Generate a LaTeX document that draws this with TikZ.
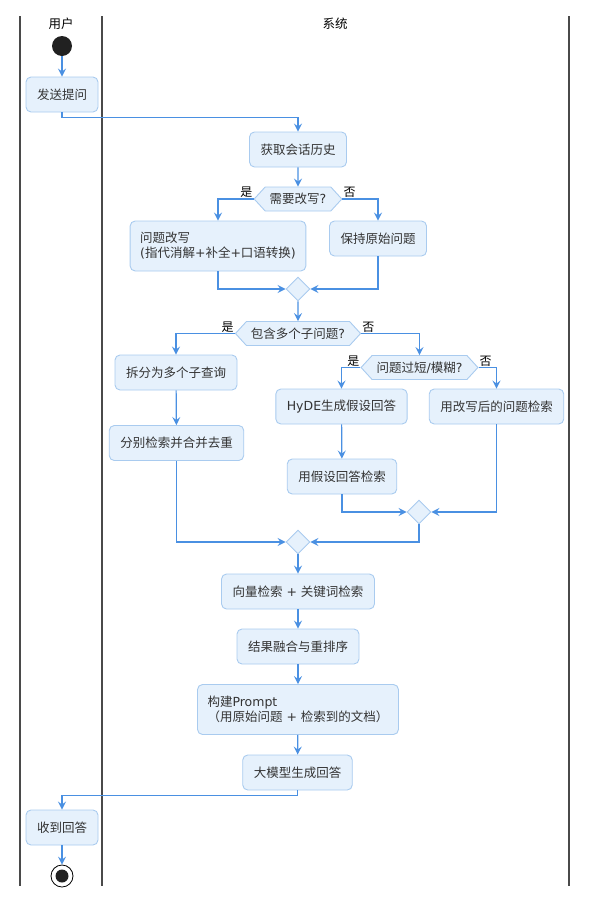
\documentclass[tikz,border=0pt]{standalone}
\usepackage{fontspec}
\setmainfont{Noto Sans CJK SC}
\newfontfamily\lat{DejaVu Sans}
\usetikzlibrary{arrows.meta, positioning, shapes.geometric, shapes.symbols}
\definecolor{boxfill}{HTML}{E6F1FC}
\definecolor{boxline}{HTML}{A9CBEF}
\definecolor{flowcol}{HTML}{4A90E2}
\definecolor{txtcol}{HTML}{333333}
\definecolor{lanecol}{HTML}{4A4A4A}

\begin{document}
\begin{tikzpicture}[
			x=1pt, y=-1pt,
			every node/.style={font=\fontsize{12.5}{15}\selectfont, text=txtcol},
			act/.style={draw=boxline, fill=boxfill, rounded corners=5pt, line width=0.9pt, inner xsep=11pt, minimum height=35pt},
			actl/.style={act, align=left, inner xsep=10pt, minimum height=50pt},
			choice/.style={signal, signal to=east and west, signal pointer angle=95, draw=boxline, fill=boxfill, line width=0.9pt, inner xsep=4.5pt, inner ysep=0pt, minimum height=24pt},
			merge/.style={diamond, draw=boxline, fill=boxfill, line width=0.9pt, minimum width=24pt, minimum height=24pt, inner sep=0pt},
			flow/.style={draw=flowcol, line width=1.2pt, -{Stealth[length=8pt,width=8pt,inset=3pt]}},
			yes/.style={text=black, font=\fontsize{12}{14}\selectfont, inner sep=1pt},
			lane/.style={draw=lanecol, line width=1.6pt}
			]
			\useasboundingbox (0,0) rectangle (597,908);
			
			% swimlanes
			\draw[lane] (20,16) -- (20,886);
			\draw[lane] (102,16) -- (102,886);
			\draw[lane] (569,16) -- (569,886);
			\node[text=black, font=\fontsize{12.5}{14}\selectfont] (L1) at (61,24) {用户};
			\node[text=black, font=\fontsize{12.5}{14}\selectfont] (L2) at (335,24) {系统};
			
			% user lane
			\node[circle, fill=black!87, minimum size=20pt, inner sep=0pt] (S) at (62,46) {};
			\node[act] (Send) at (62,94.5) {发送提问};
			
			% rewrite step
			\node[act] (Hist) at (298,149.5) {获取会话历史};
			\node[choice] (Q1) at (298,199) {需要改写{\lat ?}};
			\node[actl] (Rw) at (218,246) {问题改写\\{\lat (}指代消解{\lat +}补全{\lat +}口语转换{\lat )}};
			\node[act] (Keep) at (378,238.5) {保持原始问题};
			\node[merge] (M1) at (298,289) {};
			
			% split or expand
			\node[choice] (Q2) at (298,333.5) {包含多个子问题{\lat ?}};
			\node[act] (Split) at (176,372.5) {拆分为多个子查询};
			\node[act] (Multi) at (176.5,443) {分别检索并合并去重};
			\node[choice] (Q3) at (419.5,367.5) {问题过短{\lat /}模糊{\lat ?}};
			\node[act] (Hyde) at (341.5,406.5) {{\lat HyDE}生成假设回答};
			\node[act] (HRet) at (342,476.5) {用假设回答检索};
			\node[act] (Direct) at (496.5,406.5) {用改写后的问题检索};
			\node[merge] (M2) at (419,512) {};
			\node[merge] (M3) at (298,542) {};
			
			% retrieval and answer
			\node[act] (Vec) at (298,591.5) {向量检索{\lat\ + }关键词检索};
			\node[act] (Fuse) at (298,646.5) {结果融合与重排序};
			\node[actl] (Prm) at (298,709.5) {构建{\lat Prompt}\\（用原始问题{\lat\ + }检索到的文档）};
			\node[act] (Gen) at (297.5,772.5) {大模型生成回答};
			\node[act] (Recv) at (62,827.5) {收到回答};
			\node[circle, draw=black, line width=0.8pt, fill=white, minimum size=22pt, inner sep=0pt] (E) at (62,876) {};
			\node[circle, fill=black!87, minimum size=13pt, inner sep=0pt] (E2) at (E) {};
			
			\draw[flow] (S) -- (Send);
			\draw[flow] (Send.south) -- ++(0,5) -| (Hist.north);
			\draw[flow] (Hist) -- (Q1);
			\draw[flow] (Q1.west) -| (Rw.north);
			\draw[flow] (Q1.east) -| (Keep.north);
			\node[yes, anchor=south east] at (Q1.west) {是};
			\node[yes, anchor=south west] at (Q1.east) {否};
			\draw[flow] (Rw.south) |- (M1.west);
			\draw[flow] (Keep.south) |- (M1.east);
			\draw[flow] (M1) -- (Q2);
			\draw[flow] (Q2.west) -| (Split.north);
			\draw[flow] (Q2.east) -| (Q3.north);
			\node[yes, anchor=south east] at (Q2.west) {是};
			\node[yes, anchor=south west] at (Q2.east) {否};
			\draw[flow] (Split) -- (Multi);
			\draw[flow] (Q3.west) -| (Hyde.north);
			\draw[flow] (Q3.east) -| (Direct.north);
			\node[yes, anchor=south east] at (Q3.west) {是};
			\node[yes, anchor=south west] at (Q3.east) {否};
			\draw[flow] (Hyde) -- (HRet);
			\draw[flow] (HRet.south) |- (M2.west);
			\draw[flow] (Direct.south) |- (M2.east);
			\draw[flow] (Multi.south) |- (M3.west);
			\draw[flow] (M2.south) |- (M3.east);
			\draw[flow] (M3) -- (Vec);
			\draw[flow] (Vec) -- (Fuse);
			\draw[flow] (Fuse) -- (Prm);
			\draw[flow] (Prm) -- (Gen);
			\draw[flow] (Gen.south) -- ++(0,5) -| (Recv.north);
			\draw[flow] (Recv) -- (E);
		\end{tikzpicture}
\end{document}
